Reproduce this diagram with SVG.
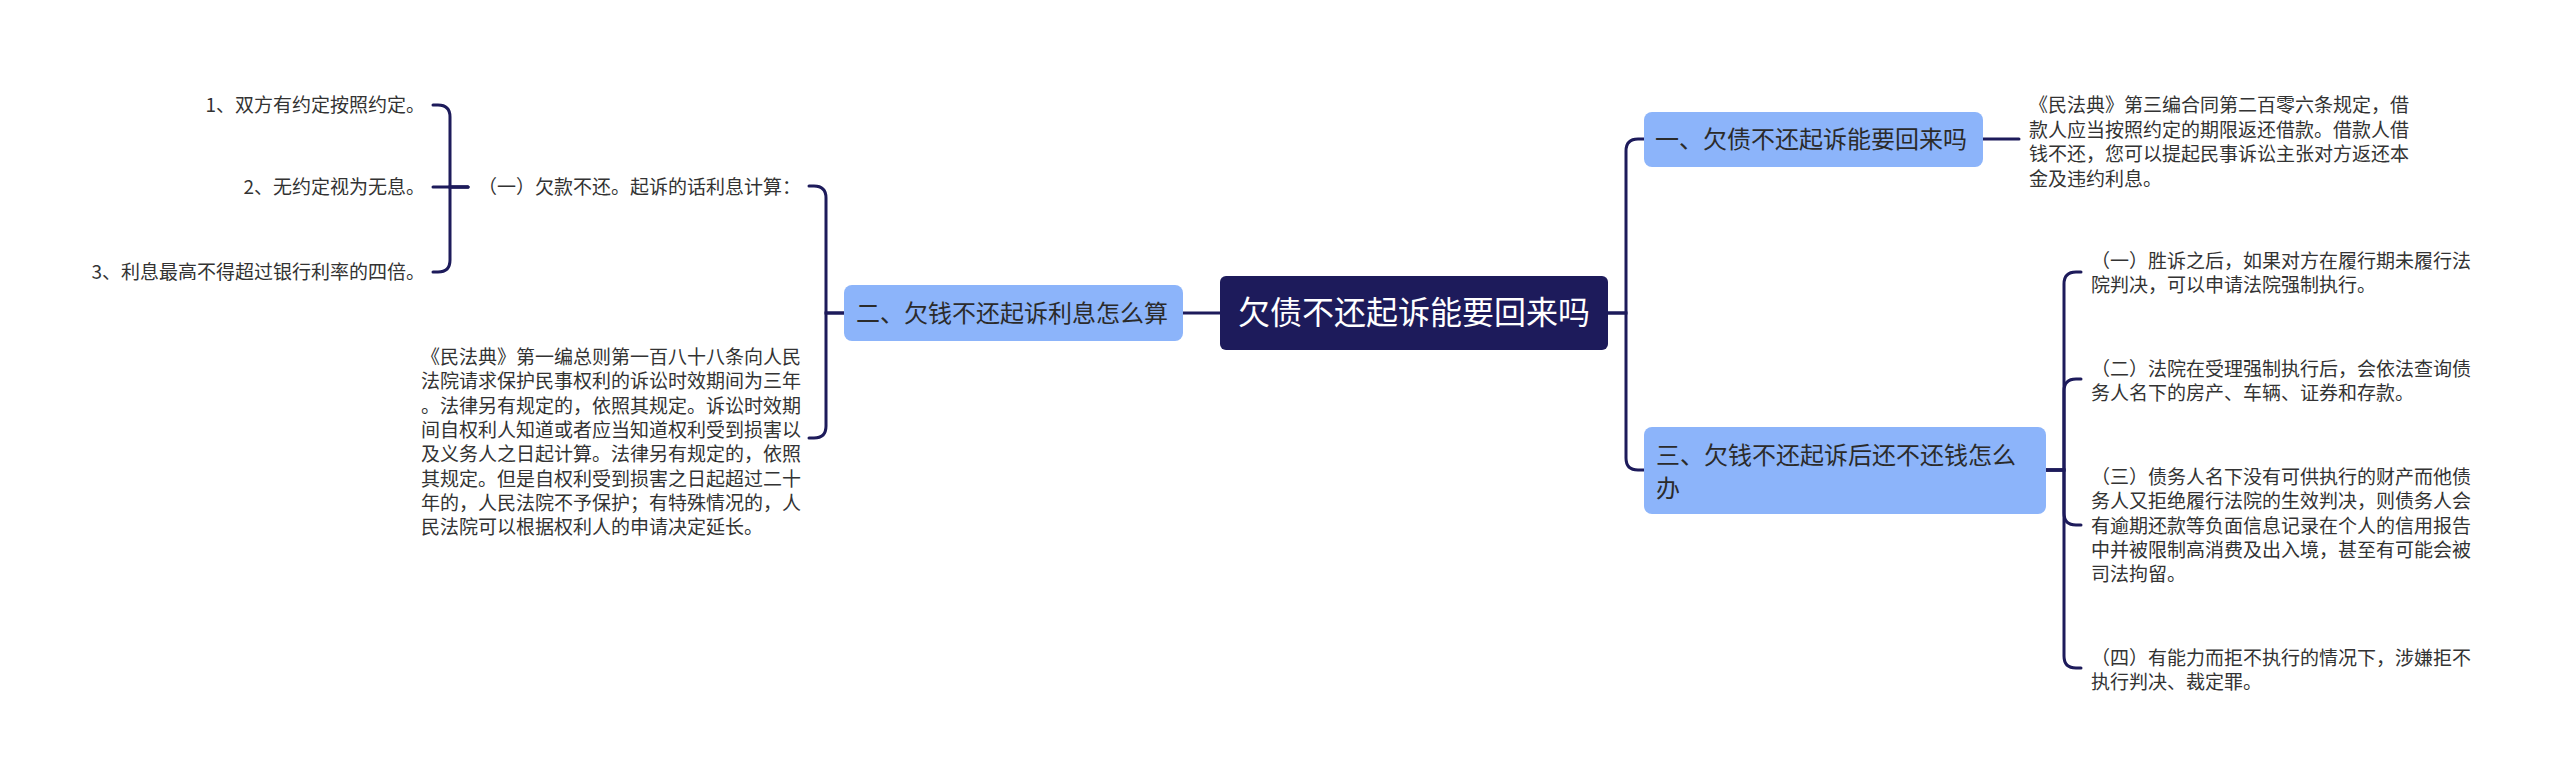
<svg xmlns="http://www.w3.org/2000/svg" width="2560" height="784" viewBox="0 0 2560 784">
<style>
.t{font-family:"Noto Sans CJK SC","Noto Sans",sans-serif;font-size:19px;fill:#333333}
.n{font-family:"Noto Sans CJK SC","Noto Sans",sans-serif;font-size:24px;fill:#2b2b2b}
.c{font-family:"Noto Sans CJK SC","Noto Sans",sans-serif;font-size:32px;fill:#ffffff}
.box{fill:#8cb4fa}
.line{fill:none;stroke:#1d1b5b;stroke-width:3;stroke-linecap:round}
</style>
<rect width="2560" height="784" fill="#ffffff"/>
<g id="connectors">
<path class="line" d="M1608,313 L1626,313 L1626,151 Q1626,139 1638,139 L1644,139"/>
<path class="line" d="M1608,313 L1626,313 L1626,458 Q1626,470 1638,470 L1644,470"/>
<path class="line" d="M1983,139 L2019,139"/>
<path class="line" d="M2046,470 L2064,470 L2064,284 Q2064,272 2076,272 L2081,272"/>
<path class="line" d="M2046,470 L2064,470 L2064,391 Q2064,379 2076,379 L2081,379"/>
<path class="line" d="M2046,470 L2064,470 L2064,513 Q2064,525 2076,525 L2081,525"/>
<path class="line" d="M2046,470 L2064,470 L2064,656 Q2064,668 2076,668 L2081,668"/>
<path class="line" d="M1220,313 L1183,313"/>
<path class="line" d="M844,313 L826,313 L826,198 Q826,186 814,186 L809,186"/>
<path class="line" d="M844,313 L826,313 L826,426 Q826,438 814,438 L809,438"/>
<path class="line" d="M468,187 L450,187 L450,117 Q450,105 438,105 L433,105"/>
<path class="line" d="M468,187 L433,187"/>
<path class="line" d="M468,187 L450,187 L450,260 Q450,272 438,272 L433,272"/>
</g>
<g id="root">
<rect x="1220" y="276" width="388" height="74" rx="6" fill="#1d1b5b"/>
<text class="c" x="1414" y="324" text-anchor="middle">欠债不还起诉能要回来吗</text>
</g>
<g id="node-1">
<rect class="box" x="1644" y="112" width="339" height="55" rx="8"/>
<text class="n" x="1655" y="148">一、欠债不还起诉能要回来吗</text>
</g>
<g id="node-1-detail">
<text class="t" x="2029" y="112">《民法典》第三编合同第二百零六条规定，借</text>
<text class="t" x="2029" y="136.5">款人应当按照约定的期限返还借款。借款人借</text>
<text class="t" x="2029" y="161">钱不还，您可以提起民事诉讼主张对方返还本</text>
<text class="t" x="2029" y="185.5">金及违约利息。</text>
</g>
<g id="node-3">
<rect class="box" x="1644" y="427" width="402" height="87" rx="8"/>
<text class="n" x="1656" y="464">三、欠钱不还起诉后还不还钱怎么</text>
<text class="n" x="1656" y="497">办</text>
</g>
<g id="node-3-a">
<text class="t" x="2091" y="268">（一）胜诉之后，如果对方在履行期未履行法</text>
<text class="t" x="2091" y="292.3">院判决，可以申请法院强制执行。</text>
</g>
<g id="node-3-b">
<text class="t" x="2091" y="376">（二）法院在受理强制执行后，会依法查询债</text>
<text class="t" x="2091" y="400.3">务人名下的房产、车辆、证券和存款。</text>
</g>
<g id="node-3-c">
<text class="t" x="2091" y="484">（三）债务人名下没有可供执行的财产而他债</text>
<text class="t" x="2091" y="508.3">务人又拒绝履行法院的生效判决，则债务人会</text>
<text class="t" x="2091" y="532.6">有逾期还款等负面信息记录在个人的信用报告</text>
<text class="t" x="2091" y="556.9">中并被限制高消费及出入境，甚至有可能会被</text>
<text class="t" x="2091" y="581.2">司法拘留。</text>
</g>
<g id="node-3-d">
<text class="t" x="2091" y="665">（四）有能力而拒不执行的情况下，涉嫌拒不</text>
<text class="t" x="2091" y="689.3">执行判决、裁定罪。</text>
</g>
<g id="node-2">
<rect class="box" x="844" y="285" width="339" height="56" rx="8"/>
<text class="n" x="856" y="322">二、欠钱不还起诉利息怎么算</text>
</g>
<g id="node-2-a">
<text class="t" x="478" y="194">（一）欠款不还。起诉的话利息计算：</text>
</g>
<g id="node-2-a-1">
<text class="t" x="425" y="112" text-anchor="end">1、双方有约定按照约定。</text>
</g>
<g id="node-2-a-2">
<text class="t" x="425" y="194" text-anchor="end">2、无约定视为无息。</text>
</g>
<g id="node-2-a-3">
<text class="t" x="425" y="279" text-anchor="end">3、利息最高不得超过银行利率的四倍。</text>
</g>
<g id="node-2-b">
<text class="t" x="421" y="364">《民法典》第一编总则第一百八十八条向人民</text>
<text class="t" x="421" y="388.3">法院请求保护民事权利的诉讼时效期间为三年</text>
<text class="t" x="421" y="412.6">。法律另有规定的，依照其规定。诉讼时效期</text>
<text class="t" x="421" y="436.9">间自权利人知道或者应当知道权利受到损害以</text>
<text class="t" x="421" y="461.2">及义务人之日起计算。法律另有规定的，依照</text>
<text class="t" x="421" y="485.5">其规定。但是自权利受到损害之日起超过二十</text>
<text class="t" x="421" y="509.8">年的，人民法院不予保护；有特殊情况的，人</text>
<text class="t" x="421" y="534.1">民法院可以根据权利人的申请决定延长。</text>
</g>
</svg>
